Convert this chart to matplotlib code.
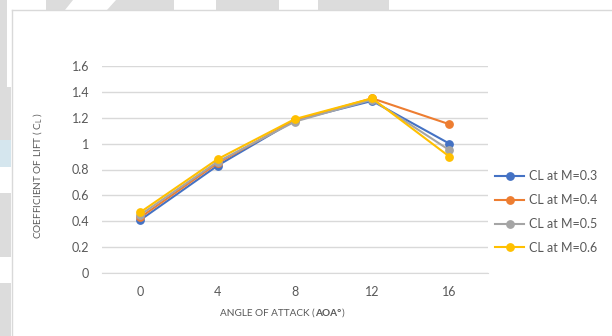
import matplotlib
matplotlib.use("Agg")
import matplotlib.pyplot as plt
from matplotlib.patches import Polygon
from matplotlib.lines import Line2D

plt.rcParams['font.family'] = ['Lato', 'DejaVu Sans']
plt.rcParams['mathtext.fontset'] = 'custom'
plt.rcParams['mathtext.rm'] = 'Lato'

# lift coefficient vs angle of attack for four Mach numbers
aoa_labels = ['0', '4', '8', '12', '16']
cl_m03 = [0.41, 0.83, 1.18, 1.33, 1.00]
cl_m04 = [0.43, 0.85, 1.18, 1.35, 1.15]
cl_m05 = [0.45, 0.86, 1.17, 1.34, 0.95]
cl_m06 = [0.47, 0.88, 1.19, 1.35, 0.90]
series_names = ['CL at M=0.3', 'CL at M=0.4', 'CL at M=0.5', 'CL at M=0.6']
series_colors = ['#4472C4', '#ED7D31', '#A5A5A5', '#FFC000']
y_ticks = [0, 0.2, 0.4, 0.6, 0.8, 1.0, 1.2, 1.4, 1.6]

W, H = 612, 336
fig = plt.figure(figsize=(W / 100, H / 100), dpi=100)
fig.patch.set_facecolor('white')


def px(x, y):
    return (x / W, 1 - y / H)


def add_poly(pts, color):
    fig.patches.append(Polygon([px(*p) for p in pts], closed=True, facecolor=color,
                               edgecolor='none', transform=fig.transFigure, figure=fig))


# grey page bits around the chart frame
grey = '#dcdcdc'
blocks = [
    [(0, 0), (7, 0), (7, 87), (11, 87), (11, 140), (0, 140)],
    [(0, 193), (11, 193), (11, 257), (0, 257)],
    [(0, 283), (11, 283), (11, 336), (0, 336)],
    [(46, 0), (73, 0), (65, 10), (46, 10)],
    [(116, 0), (174, 0), (174, 10), (107, 10)],
    [(216, 0), (279, 0), (279, 10), (216, 10)],
    [(318, 0), (389, 0), (389, 10), (318, 10)],
]
for b in blocks:
    add_poly(b, grey)
add_poly([(0, 140), (11, 140), (11, 167), (0, 167)], '#d5e6ee')

# chart frame edges
frame = '#d9d9d9'
fig.lines.append(Line2D([11.5 / W, 11.5 / W], [1 - 10 / H, 0], color=frame, lw=1,
                        transform=fig.transFigure, figure=fig))
fig.lines.append(Line2D([11.5 / W, 1], [1 - 10 / H, 1 - 10 / H], color=frame, lw=1,
                        transform=fig.transFigure, figure=fig))

ax = fig.add_axes([101.7 / W, 1 - 273 / H, (488 - 101.7) / W, (273 - 66) / H])
ax.set_facecolor('none')

x = list(range(len(aoa_labels)))
for vals, name, col in zip([cl_m03, cl_m04, cl_m05, cl_m06], series_names, series_colors):
    ax.plot(x, vals, color=col, lw=1.5, marker='o', markersize=5.3, label=name)

ax.set_xlim(-0.5, len(aoa_labels) - 0.5)
ax.set_ylim(0, 1.6)
ax.set_xticks(x)
ax.set_xticklabels(aoa_labels)
ax.set_yticks(y_ticks)
ax.set_yticklabels([f'{v:g}' for v in y_ticks])
ax.yaxis.grid(True, color='#d9d9d9', lw=1)
ax.set_axisbelow(True)
for s in ['top', 'right', 'left']:
    ax.spines[s].set_visible(False)
ax.spines['bottom'].set_color('#d9d9d9')
ax.tick_params(axis='both', length=0, labelsize=9, colors='#595959')
ax.tick_params(axis='y', pad=9)
ax.tick_params(axis='x', pad=9)

# axis titles
title_size = 7.2
fig.text(37 / W, 1 - 176 / H, 'COEFFICIENT OF LIFT ( $\\mathregular{C_L}$ )',
         rotation=90, ha='center', va='center', fontsize=title_size, color='#595959')

# x title: plain text with a bold part, laid out piece by piece
ty = 1 - 313 / H
parts = [('ANGLE OF ATTACK (', 'normal'), ('AOA°', 'bold'), (')', 'normal')]
texts = [fig.text(0, ty, s, fontweight=w, fontsize=title_size, color='#595959',
                  ha='left', va='center') for s, w in parts]
fig.canvas.draw()
r = fig.canvas.get_renderer()
widths = [t.get_window_extent(r).width for t in texts]
x0 = 282 - sum(widths) / 2
for t, w in zip(texts, widths):
    t.set_position((x0 / W, ty))
    x0 += w

leg = ax.legend(loc='center left', bbox_to_anchor=(495 / W, 1 - 212 / H),
                bbox_transform=fig.transFigure, frameon=False, fontsize=9,
                handlelength=2.35, handletextpad=0.35, labelspacing=0.95,
                borderpad=0, borderaxespad=0)
for t in leg.get_texts():
    t.set_color('#595959')

fig.savefig('out.png', dpi=100)
